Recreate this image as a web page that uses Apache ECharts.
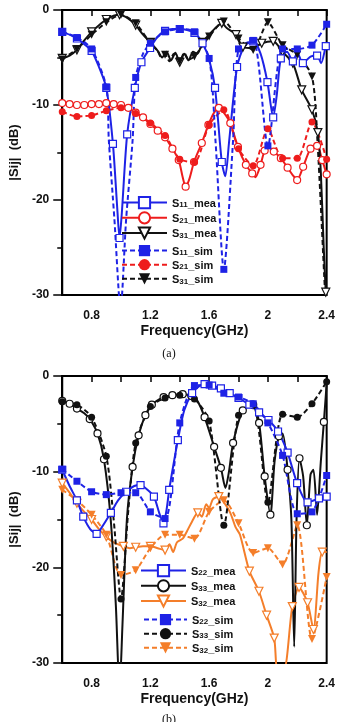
<!DOCTYPE html>
<html>
<head>
<meta charset="utf-8">
<script src="https://cdn.jsdelivr.net/npm/echarts@6/dist/echarts.min.js"></script>
<style>
  html, body { margin: 0; padding: 0; background: #fff; }
  #chart { width: 338px; height: 722px; }
</style>
</head>
<body>
<div id="chart"></div>
<script>
// [freq GHz, |S| dB, marker shown]
const freqLabels = [0.8, 1.2, 1.6, 2, 2.4];
const yLabels = [0, -10, -20, -30];

// panel (a)
const s11Mea = [[0.6,-2.3,1],[0.65,-2.6,0],[0.7,-3.0,1],[0.75,-3.6,0],[0.8,-4.3,1],[0.85,-6.0,0],[0.9,-8.2,1],[0.945,-14.1,1],[0.975,-21,0],[0.99,-24,1],[1.005,-21.5,0],[1.042,-13.1,1],[1.094,-8.2,1],[1.139,-5.5,1],[1.198,-4.0,1],[1.25,-2.8,0],[1.3,-2.2,1],[1.35,-2.0,0],[1.4,-2.0,1],[1.45,-2.1,0],[1.5,-2.4,1],[1.555,-3.5,1],[1.6,-5.2,0],[1.64,-8.2,1],[1.686,-16,1],[1.71,-17.5,0],[1.735,-14,0],[1.79,-6,1],[1.84,-3.8,0],[1.9,-3.3,1],[1.95,-4.6,0],[1.997,-7.6,1],[2.036,-11.3,1],[2.06,-9,0],[2.088,-5.1,1],[2.13,-4.4,0],[2.17,-5.4,1],[2.2,-4.5,0],[2.238,-5.6,1],[2.29,-4.9,0],[2.335,-4.8,1],[2.362,-5.6,0],[2.394,-3.8,1],[2.4,-3.6,0]];
const s21Mea = [[0.6,-9.8,1],[0.65,-9.9,1],[0.7,-10.0,1],[0.75,-10.0,1],[0.8,-9.9,1],[0.85,-9.9,1],[0.9,-9.8,1],[0.95,-9.9,1],[1.0,-10.0,1],[1.05,-10.3,1],[1.1,-10.8,1],[1.15,-11.3,1],[1.2,-12.0,1],[1.25,-12.7,1],[1.3,-13.4,1],[1.35,-14.6,1],[1.393,-15.8,1],[1.42,-17.6,0],[1.44,-18.6,1],[1.465,-17.8,0],[1.497,-16,1],[1.55,-14,1],[1.595,-12.1,1],[1.63,-10.9,0],[1.666,-10.3,1],[1.7,-10.8,0],[1.744,-11.9,1],[1.796,-14.4,1],[1.85,-16.3,1],[1.893,-17.2,1],[1.915,-17.6,0],[1.95,-16.3,1],[1.978,-14.8,1],[2.01,-14.5,0],[2.04,-14.9,1],[2.088,-15.6,1],[2.134,-16.6,1],[2.17,-17.4,0],[2.199,-17.9,1],[2.24,-16.5,1],[2.29,-14.6,1],[2.335,-14.3,1],[2.37,-15.8,1],[2.4,-17.3,1]];
const s31Mea = [[0.6,-5.1,1],[0.65,-4.8,0],[0.7,-4.2,1],[0.75,-3.2,0],[0.8,-2.3,1],[0.85,-1.6,0],[0.9,-1.0,1],[0.95,-0.6,0],[0.99,-0.5,1],[1.05,-0.9,0],[1.1,-1.6,1],[1.15,-2.6,0],[1.2,-3.4,1],[1.25,-4.3,0],[1.28,-5.0,0],[1.31,-4.4,0],[1.34,-5.3,0],[1.37,-4.5,0],[1.4,-5.5,1],[1.43,-4.6,0],[1.46,-5.3,0],[1.49,-4.4,0],[1.52,-4.6,0],[1.555,-3.4,1],[1.6,-2.6,0],[1.65,-1.8,0],[1.686,-1.4,1],[1.72,-1.9,0],[1.783,-2.6,1],[1.83,-3.9,1],[1.9,-4.0,0],[1.958,-3.5,1],[2.036,-3.3,1],[2.1,-4.4,1],[2.17,-5.6,1],[2.23,-8.4,1],[2.3,-10.5,1],[2.34,-12.9,1],[2.36,-17,0],[2.38,-25,0],[2.394,-29.7,1],[2.4,-31,0]];
const s11Sim = [[0.6,-2.3,1],[0.7,-2.9,1],[0.8,-4.1,1],[0.9,-8.1,1],[0.917,-13.7,0],[0.955,-22,0],[0.997,-31.5,1],[1.035,-22,0],[1.079,-13.7,0],[1.1,-7.1,1],[1.15,-4.6,0],[1.2,-3.5,1],[1.3,-2.3,1],[1.4,-2.0,1],[1.5,-2.3,1],[1.6,-5.1,1],[1.643,-13.7,0],[1.7,-27.3,1],[1.763,-13.7,0],[1.8,-4.1,1],[1.9,-3.2,1],[2.0,-14.3,1],[2.1,-4.1,1],[2.2,-4.1,1],[2.3,-3.7,1],[2.4,-1.5,1]];
const s21Sim = [[0.6,-10.7,1],[0.7,-11.2,1],[0.8,-11.1,1],[0.9,-10.6,1],[1.0,-10.3,1],[1.1,-10.9,1],[1.2,-11.9,1],[1.3,-13.2,1],[1.4,-15.7,1],[1.5,-16.0,1],[1.6,-12.1,1],[1.7,-10.5,1],[1.8,-14.6,1],[1.9,-16.4,1],[2.0,-12.5,1],[2.1,-15.6,1],[2.2,-15.6,1],[2.3,-11.8,1],[2.4,-15.7,1]];
const s31Sim = [[0.6,-5.2,1],[0.7,-4.1,1],[0.8,-2.6,1],[0.9,-1.3,1],[1.0,-0.5,1],[1.1,-1.4,1],[1.2,-3.5,1],[1.25,-4.3,0],[1.27,-4.9,0],[1.3,-4.7,1],[1.33,-5.4,0],[1.36,-4.6,0],[1.4,-5.4,1],[1.43,-4.5,0],[1.46,-5.2,0],[1.5,-4.9,1],[1.6,-2.8,1],[1.7,-1.2,1],[1.8,-3.0,1],[1.9,-4.2,1],[2.0,-1.3,1],[2.1,-3.7,1],[2.2,-4.7,1],[2.3,-7.0,1],[2.337,-13.7,0],[2.39,-30,0],[2.4,-32,1]];

// panel (b)
const s22Mea = [[0.6,-9.8,1],[0.65,-11.5,0],[0.7,-13.0,1],[0.743,-14.7,1],[0.79,-16.0,0],[0.834,-16.5,1],[0.87,-15.8,0],[0.931,-14.3,1],[0.98,-13.0,0],[1.035,-12.1,1],[1.09,-11.5,0],[1.133,-11.4,1],[1.18,-11.9,0],[1.224,-12.6,1],[1.26,-14.3,0],[1.289,-15.4,1],[1.31,-14.0,0],[1.328,-11.9,1],[1.36,-9.0,0],[1.387,-6.7,1],[1.43,-3.6,0],[1.484,-1.8,1],[1.53,-1.1,0],[1.569,-0.85,1],[1.62,-1.0,1],[1.68,-1.3,1],[1.74,-1.8,1],[1.8,-2.3,1],[1.874,-3.0,1],[1.94,-3.8,1],[2.004,-4.6,1],[2.069,-5.8,1],[2.134,-8.0,1],[2.199,-11.2,1],[2.27,-13.2,1],[2.348,-12.8,1],[2.4,-12.6,1]];
const s33Mea = [[0.6,-2.6,1],[0.65,-2.9,1],[0.7,-3.4,1],[0.75,-3.9,0],[0.787,-4.5,1],[0.84,-6.0,1],[0.884,-8.7,1],[0.93,-15,0],[0.965,-24,0],[0.99,-33,0],[1.01,-26,0],[1.04,-15,0],[1.079,-9.5,1],[1.12,-6.2,1],[1.166,-4.1,1],[1.21,-3.0,1],[1.29,-2.2,1],[1.35,-2.0,1],[1.42,-1.9,1],[1.48,-2.1,1],[1.52,-2.6,0],[1.569,-4.3,1],[1.634,-7.4,1],[1.68,-9.6,1],[1.711,-11.7,0],[1.735,-10,0],[1.763,-7.0,1],[1.829,-3.6,1],[1.9,-3.0,1],[1.94,-4.9,1],[1.978,-10.5,1],[2.017,-14.5,1],[2.045,-9,0],[2.075,-6.3,1],[2.1,-6.0,0],[2.134,-9.8,1],[2.16,-15,0],[2.179,-28.3,0],[2.195,-15,0],[2.215,-8.6,1],[2.24,-10.5,0],[2.265,-15.6,1],[2.29,-10.3,0],[2.31,-9.8,0],[2.335,-14.5,0],[2.36,-9,0],[2.381,-4.8,1],[2.4,-0.8,0]];
const s32Mea = [[0.6,-11.2,1],[0.65,-12.2,0],[0.7,-13.3,1],[0.75,-14.2,0],[0.8,-15.0,1],[0.85,-16.0,0],[0.9,-16.8,1],[0.95,-17.4,0],[1.016,-17.8,1],[1.06,-18.0,0],[1.1,-17.9,1],[1.15,-17.8,0],[1.2,-17.8,1],[1.25,-18.0,0],[1.3,-18.2,1],[1.33,-17.6,0],[1.355,-18.4,0],[1.38,-17.4,0],[1.42,-17.0,0],[1.45,-16.2,0],[1.484,-15.2,0],[1.523,-14.3,1],[1.55,-14.7,0],[1.58,-13.4,0],[1.6,-13.8,0],[1.625,-12.9,0],[1.666,-12.6,1],[1.7,-13.2,0],[1.744,-14.3,0],[1.78,-15.8,0],[1.81,-16.6,0],[1.874,-20.4,1],[1.939,-22.5,1],[1.991,-25.0,1],[2.043,-27.4,1],[2.065,-30.6,0],[2.11,-30.6,0],[2.166,-24.1,1],[2.212,-22.1,1],[2.27,-23.7,1],[2.31,-26.5,1],[2.345,-20.5,0],[2.37,-18.4,1],[2.4,-18.4,0]];
const s22Sim = [[0.6,-9.75,1],[0.7,-11.0,1],[0.8,-12.1,1],[0.9,-12.4,1],[1.0,-12.2,1],[1.1,-12.2,1],[1.2,-14.2,1],[1.3,-14.9,1],[1.4,-4.9,1],[1.5,-1.0,1],[1.6,-0.95,1],[1.7,-1.8,1],[1.8,-2.2,1],[1.9,-2.9,1],[2.0,-4.9,1],[2.1,-8.3,1],[2.2,-14.4,1],[2.3,-14.2,1],[2.4,-10.4,1]];
const s33Sim = [[0.6,-2.7,1],[0.7,-3.0,1],[0.8,-4.3,1],[0.9,-8.4,1],[0.95,-15,0],[1.0,-23.3,1],[1.05,-14,0],[1.1,-7.0,1],[1.2,-3.2,1],[1.3,-2.3,1],[1.4,-2.0,1],[1.5,-2.4,1],[1.6,-4.7,1],[1.7,-15.6,1],[1.8,-4.1,1],[1.9,-3.1,1],[2.0,-13.2,1],[2.1,-4.0,1],[2.2,-4.3,1],[2.3,-2.9,1],[2.4,-0.6,1]];
const s32Sim = [[0.6,-11.9,1],[0.7,-13.0,1],[0.8,-14.5,1],[0.9,-16.6,1],[1.0,-20.8,1],[1.1,-20.3,1],[1.2,-18.0,1],[1.3,-16.6,1],[1.4,-16.6,1],[1.5,-17.0,1],[1.6,-14.2,1],[1.7,-13.0,1],[1.8,-15.4,1],[1.9,-18.5,1],[2.0,-18.0,1],[2.1,-19.7,1],[2.2,-15.6,1],[2.3,-27.5,1],[2.4,-21.0,1]];

const BLUE = '#1e22e6', RED = '#ee1c1c', BLACK = '#111', ORANGE = '#f47e2a';
const FONT = 'Liberation Sans, Arial, sans-serif';

function curve(name, pts, color, dashed, sym, hollow, idx) {
  return {
    name: name,
    type: 'line',
    xAxisIndex: idx,
    yAxisIndex: idx,
    smooth: 0.25,
    symbol: sym,
    symbolSize: sym === 'triangle' ? 8 : 7,
    symbolRotate: sym === 'triangle' ? 180 : 0,
    lineStyle: { color: color, width: 2, type: dashed ? [5, 3] : 'solid' },
    itemStyle: hollow
      ? { color: '#fff', borderColor: color, borderWidth: 1.2 }
      : { color: color },
    data: pts.map(p => p[2] ? [p[0], p[1]] : { value: [p[0], p[1]], symbol: 'none' })
  };
}

function legend(names, left, top, w) {
  return {
    orient: 'vertical',
    left: left,
    top: top,
    padding: 0,
    itemWidth: w,
    itemHeight: 14,
    itemGap: 2,
    data: names,
    formatter: n => '{a|S}{b|' + n.slice(1, 3) + '}{a|' + n.slice(3) + '}',
    textStyle: {
      rich: {
        a: { fontFamily: FONT, fontWeight: 'bold', fontSize: 11, color: '#111', lineHeight: 13, verticalAlign: 'bottom' },
        b: { fontFamily: FONT, fontWeight: 'bold', fontSize: 8, color: '#111', lineHeight: 13, verticalAlign: 'bottom' }
      }
    }
  };
}

function xAxis(idx) {
  return {
    gridIndex: idx,
    type: 'value',
    min: 0.6,
    max: 2.4,
    interval: 0.2,
    name: 'Frequency(GHz)',
    nameLocation: 'middle',
    nameGap: 29,
    nameTextStyle: { fontFamily: FONT, fontWeight: 'bold', fontSize: 14, color: '#111' },
    axisLine: { lineStyle: { color: '#000', width: 2 } },
    axisTick: { length: 6, lineStyle: { color: '#000', width: 1.5 } },
    axisLabel: { customValues: freqLabels, margin: 15, fontFamily: FONT, fontWeight: 'bold', fontSize: 12, color: '#111' },
    splitLine: { show: false }
  };
}

function yAxis(idx) {
  return {
    gridIndex: idx,
    type: 'value',
    min: -30,
    max: 0,
    interval: 10,
    name: '|Sij|  (dB)',
    nameLocation: 'middle',
    nameGap: 32,
    nameTextStyle: { fontFamily: FONT, fontWeight: 'bold', fontSize: 13, color: '#111' },
    axisLine: { lineStyle: { color: '#000', width: 2 } },
    axisTick: { length: 9, lineStyle: { color: '#000', width: 1.5 } },
    minorTick: { show: true, splitNumber: 2, length: 5, lineStyle: { color: '#000', width: 1.5 } },
    axisLabel: { customValues: yLabels, margin: 13, fontFamily: FONT, fontWeight: 'bold', fontSize: 12, color: '#111' },
    splitLine: { show: false },
    minorSplitLine: { show: false }
  };
}

const chart = echarts.init(document.getElementById('chart'));

chart.setOption({
  animation: false,
  backgroundColor: '#fff',
  title: [
    { text: '(a)', left: 'center', top: 348, padding: 0,
      textStyle: { fontFamily: 'Liberation Serif, serif', fontWeight: 'normal', fontSize: 12, color: '#111' } },
    { text: '(b)', left: 'center', top: 714, padding: 0,
      textStyle: { fontFamily: 'Liberation Serif, serif', fontWeight: 'normal', fontSize: 12, color: '#111' } }
  ],
  grid: [
    { left: 51, top: 10, width: 277, height: 285, show: true, borderColor: '#000', borderWidth: 2 },
    { left: 51, top: 376, width: 277, height: 287, show: true, borderColor: '#000', borderWidth: 2 }
  ],
  xAxis: [xAxis(0), xAxis(1)],
  yAxis: [yAxis(0), yAxis(1)],
  legend: [
    legend(['S11_mea', 'S21_mea', 'S31_mea'], 121, 196, 45),
    legend(['S11_sim', 'S21_sim', 'S31_sim'], 121, 245, 45),
    legend(['S22_mea', 'S33_mea', 'S32_mea'], 140, 564, 45),
    legend(['S22_sim', 'S33_sim', 'S32_sim'], 143, 614, 43)
  ],
  series: [
    curve('S21_mea', s21Mea, RED, false, 'circle', true, 0),
    curve('S21_sim', s21Sim, RED, true, 'circle', false, 0),
    curve('S31_mea', s31Mea, BLACK, false, 'triangle', true, 0),
    curve('S31_sim', s31Sim, BLACK, true, 'triangle', false, 0),
    curve('S11_mea', s11Mea, BLUE, false, 'rect', true, 0),
    curve('S11_sim', s11Sim, BLUE, true, 'rect', false, 0),

    curve('S32_mea', s32Mea, ORANGE, false, 'triangle', true, 1),
    curve('S32_sim', s32Sim, ORANGE, true, 'triangle', false, 1),
    curve('S33_mea', s33Mea, BLACK, false, 'circle', true, 1),
    curve('S33_sim', s33Sim, BLACK, true, 'circle', false, 1),
    curve('S22_mea', s22Mea, BLUE, false, 'rect', true, 1),
    curve('S22_sim', s22Sim, BLUE, true, 'rect', false, 1)
  ]
});

window.addEventListener('resize', () => chart.resize());
</script>
</body>
</html>
